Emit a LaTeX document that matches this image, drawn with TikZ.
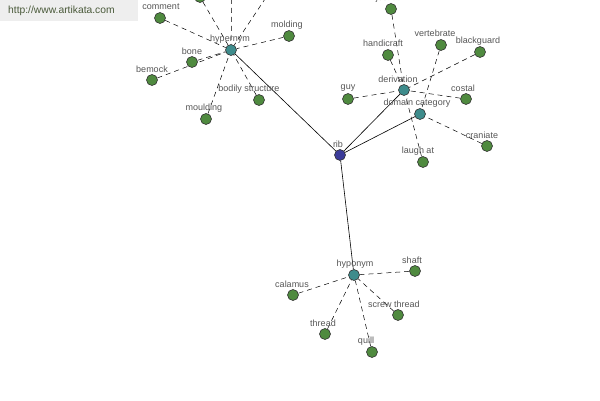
\documentclass[tikz,border=0pt]{standalone}
\usepackage{fontspec}
\setmainfont{Liberation Sans}
\usetikzlibrary{backgrounds}
\definecolor{leafc}{HTML}{4F8A3F}
\definecolor{hubc}{HTML}{3E8C8C}
\definecolor{ribc}{HTML}{3C3C9A}
\definecolor{labc}{HTML}{555555}
\definecolor{urlbg}{HTML}{EEEEEE}
\definecolor{urltx}{HTML}{4A5A3A}
\tikzset{
  dot/.style={circle,draw=black!80,line width=0.6pt,minimum size=11pt,inner sep=0pt},
  leaf/.style={dot,fill=leafc},
  hub/.style={dot,fill=hubc},
  root/.style={dot,fill=ribc},
  lab/.style={font=\fontsize{9}{10}\selectfont,text=labc,inner sep=0pt,anchor=center},
  rel/.style={line width=0.5pt,black,dash pattern=on 5pt off 4pt},
  main/.style={line width=0.6pt,black}
}
\begin{document}
\begin{tikzpicture}[x=1pt,y=-1pt]
\useasboundingbox (0,0) rectangle (600,400);
\clip (0,0) rectangle (600,400);
% nodes
\node[root] (rib) at (340,155) {};
\node[hub] (hyper) at (231,50) {};
\node[hub] (deriv) at (404,90) {};
\node[hub] (domain) at (420,114) {};
\node[hub] (hypo) at (354,275) {};
% hypernym leaves
\node[leaf] (comment) at (160,18) {};
\node[leaf] (bone) at (192,62) {};
\node[leaf] (bemock) at (152,80) {};
\node[leaf] (moulding) at (206,119) {};
\node[leaf] (bodily) at (259,100) {};
\node[leaf] (molding) at (289,36) {};
\node[leaf] (hA) at (200,-3) {};
\node[leaf] (hB) at (232,-25) {};
\node[leaf] (hC) at (279,-22) {};
% derivation leaves
\node[leaf] (jest) at (391,9) {};
\node[leaf] (handicraft) at (388,55) {};
\node[leaf] (guy) at (348,99) {};
\node[leaf] (costal) at (466,99) {};
\node[leaf] (blackguard) at (480,52) {};
\node[leaf] (laugh) at (423,162) {};
% domain category leaves
\node[leaf] (vertebrate) at (441,45) {};
\node[leaf] (craniate) at (487,146) {};
% hyponym leaves
\node[leaf] (shaft) at (415,271) {};
\node[leaf] (calamus) at (293,295) {};
\node[leaf] (screw) at (398,315) {};
\node[leaf] (thread) at (325,334) {};
\node[leaf] (quill) at (372,352) {};
% labels
\node[lab] at (230,39) {hypernym};
\node[lab] at (161,7) {comment};
\node[lab] at (192,51) {bone};
\node[lab] at (152,69) {bemock};
\node[lab] at (204,108) {moulding};
\node[lab] at (249,89) {bodily structure};
\node[lab] at (287,25) {molding};
\node[lab] at (388,-2) {jest at};
\node[lab] at (383,43) {handicraft};
\node[lab] at (435,33) {vertebrate};
\node[lab] at (478,41) {blackguard};
\node[lab] at (398,79) {derivation};
\node[lab] at (348,88) {guy};
\node[lab] at (463,88) {costal};
\node[lab] at (417,103) {domain category};
\node[lab] at (482,135) {craniate};
\node[lab] at (338,144) {rib};
\node[lab] at (418,151) {laugh at};
\node[lab] at (355,264) {hyponym};
\node[lab] at (412,260) {shaft};
\node[lab] at (292,284) {calamus};
\node[lab] at (394,304) {screw thread};
\node[lab] at (323,323) {thread};
\node[lab] at (366,341) {quill};
% connectors
\begin{scope}[on background layer]
\draw[main] (rib) -- (hyper);
\draw[main] (rib) -- (deriv);
\draw[main] (rib) -- (domain);
\draw[main] (rib) -- (hypo);
\foreach \n in {comment,bone,bemock,moulding,bodily,molding,hA,hB,hC}
  \draw[rel] (\n) -- (hyper);
\foreach \n in {jest,handicraft,guy,costal,blackguard,laugh}
  \draw[rel] (\n) -- (deriv);
\foreach \n in {vertebrate,craniate}
  \draw[rel] (\n) -- (domain);
\foreach \n in {shaft,calamus,screw,thread,quill}
  \draw[rel] (\n) -- (hypo);
\end{scope}
% url box
\node[fill=urlbg,inner sep=0pt,minimum width=138pt,minimum height=21pt,anchor=north west] (urlbox) at (0,0) {};
\node[font=\fontsize{10.3}{11}\selectfont,text=urltx,anchor=west,inner sep=0pt] (url) at (8,11) {http://www.artikata.com};
\end{tikzpicture}
\end{document}
